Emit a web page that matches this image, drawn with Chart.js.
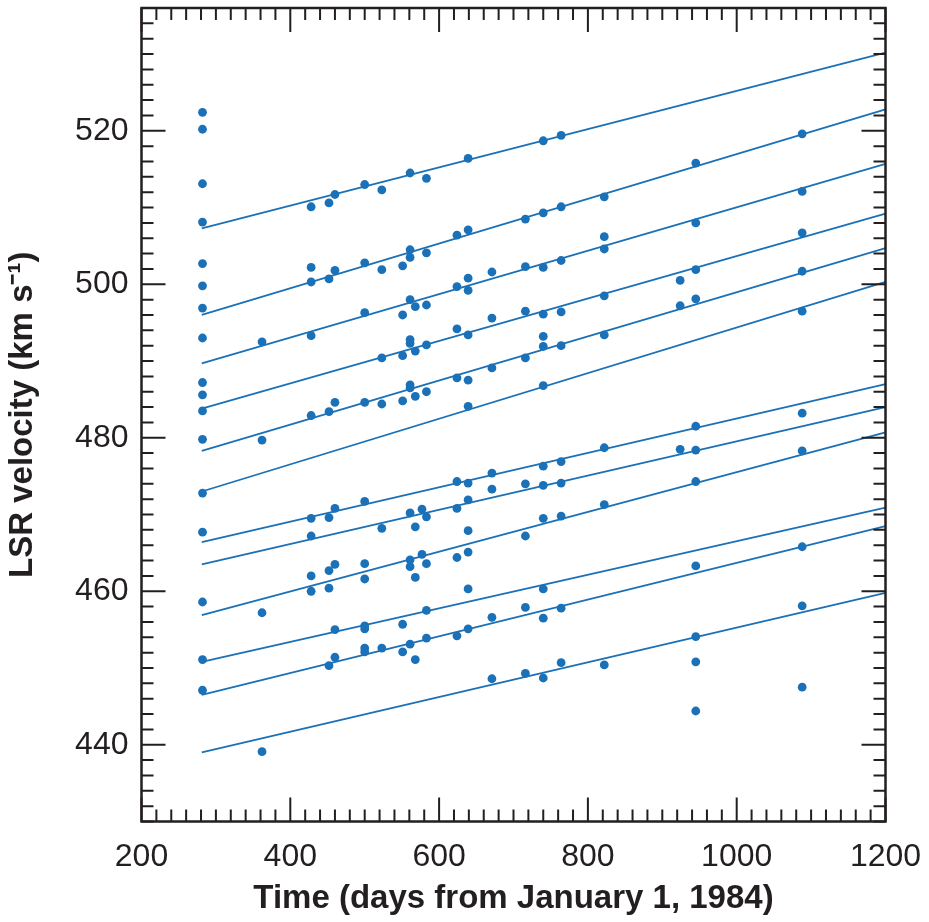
<!DOCTYPE html>
<html><head><meta charset="utf-8">
<script src="https://cdn.jsdelivr.net/npm/chart.js@4/dist/chart.umd.min.js"></script>
<style>html,body{margin:0;padding:0;background:#fff}#wrap{width:929px;height:922px}</style>
</head><body><div id="wrap"><canvas id="c" width="929" height="922"></canvas></div>
<script>
// Observation epochs (days from 1984-01-01) and the LSR velocities measured at each epoch
const obsDays = [282, 362, 428, 452, 460, 500, 523, 551, 561, 568, 577, 583, 624, 639, 671, 716, 740, 764, 822, 924, 945, 1088];
const obsVel = [
  [522.4, 520.2, 513.1, 508.1, 502.7, 499.8, 496.9, 493.0, 487.2, 485.6, 483.5, 479.8, 472.8, 467.7, 458.6, 451.1, 447.1],
  [492.5, 479.7, 457.2, 439.1],
  [510.1, 502.2, 500.3, 493.3, 482.9, 469.5, 467.2, 462.0, 460.0],
  [510.6, 500.7, 483.4, 469.6, 462.7, 460.4, 450.3],
  [511.7, 501.8, 484.6, 470.8, 463.5, 455.0, 451.4],
  [513.0, 502.8, 496.3, 484.6, 471.7, 463.6, 461.6, 455.5, 455.1, 452.6, 452.1],
  [512.3, 501.9, 490.4, 484.4, 468.2, 452.6],
  [502.4, 496.0, 490.7, 484.8, 455.7, 452.1],
  [514.5, 504.5, 503.5, 498.0, 492.8, 492.3, 486.9, 486.5, 470.2, 464.1, 463.2, 453.1],
  [497.1, 491.3, 485.4, 468.4, 461.8, 451.1],
  [470.7, 464.8],
  [513.8, 504.1, 497.3, 492.1, 486.0, 469.7, 463.6, 457.5, 453.9],
  [506.4, 499.7, 494.2, 487.8, 474.3, 470.8, 464.4, 454.2],
  [516.4, 507.1, 500.8, 499.2, 493.4, 487.5, 484.1, 474.1, 471.9, 467.9, 465.1, 460.3, 455.1],
  [501.6, 495.6, 489.1, 475.4, 473.3, 456.6, 448.6],
  [508.5, 502.3, 496.5, 490.4, 474.0, 467.2, 457.9, 449.3],
  [518.7, 509.3, 502.2, 496.1, 493.2, 491.9, 486.8, 476.3, 473.8, 469.5, 460.3, 456.5, 448.7],
  [519.4, 510.1, 503.1, 496.4, 492.0, 476.9, 474.1, 469.8, 457.8, 450.7],
  [511.4, 506.2, 504.6, 498.5, 493.4, 478.7, 471.3, 450.4],
  [500.5, 497.2, 478.5],
  [515.8, 508.0, 501.9, 498.1, 481.5, 478.4, 474.3, 463.3, 454.1, 450.8, 444.4],
  [519.6, 512.1, 506.7, 501.7, 496.5, 483.2, 478.3, 465.8, 458.1, 447.5]
];
// Linear fits (one per velocity feature): start and end values
const fitStartDay = 281;
const fitEndDay = 1200;
const fitStartVel = [507.3, 496.0, 489.7, 483.8, 478.3, 473.0, 466.4, 463.5, 456.9, 450.8, 446.5, 439.0];
const fitEndVel   = [530.2, 522.8, 515.7, 509.2, 504.7, 500.3, 487.0, 484.0, 480.7, 470.9, 468.5, 459.8];
// Axis tick labels
const xTickLabels = [200, 400, 600, 800, 1000, 1200];
const yTickLabels = [440, 460, 480, 500, 520];

const BLUE = '#1b71b7';
const INK = '#231f20';
const FONT = '"Liberation Sans", Arial, Helvetica, sans-serif';

const points = [];
obsDays.forEach((d, i) => obsVel[i].forEach(v => points.push({x: d, y: v})));

const datasets = [{
  type: 'scatter', data: points, pointRadius: 4.4, pointBorderWidth: 0,
  backgroundColor: BLUE, borderColor: BLUE, showLine: false
}];
fitStartVel.forEach((s, i) => datasets.push({
  type: 'scatter', showLine: true, pointRadius: 0, borderWidth: 1.8,
  borderColor: BLUE, backgroundColor: BLUE,
  data: [{x: fitStartDay, y: s}, {x: fitEndDay, y: fitEndVel[i]}]
}));

const frameTicks = {
  id: 'frameTicks',
  afterDatasetsDraw(chart) {
    const {ctx, chartArea: a, scales: {x, y}} = chart;
    ctx.save();
    ctx.strokeStyle = INK;
    ctx.lineWidth = 2;
    ctx.beginPath();
    x.ticks.forEach(t => {
      const px = x.getPixelForValue(t.value);
      const len = xTickLabels.includes(Math.round(t.value)) ? 24 : 12;
      ctx.moveTo(px, a.bottom); ctx.lineTo(px, a.bottom - len);
      ctx.moveTo(px, a.top); ctx.lineTo(px, a.top + len);
    });
    y.ticks.forEach(t => {
      const py = y.getPixelForValue(t.value);
      const len = yTickLabels.includes(Math.round(t.value)) ? 24 : 12;
      ctx.moveTo(a.left, py); ctx.lineTo(a.left + len, py);
      ctx.moveTo(a.right, py); ctx.lineTo(a.right - len, py);
    });
    ctx.stroke();
    ctx.lineWidth = 2.5;
    ctx.strokeRect(a.left, a.top, a.right - a.left, a.bottom - a.top);
    ctx.restore();
  }
};

new Chart(document.getElementById('c'), {
  type: 'scatter',
  data: {datasets},
  options: {
    responsive: false, animation: false, devicePixelRatio: 1, events: [],
    layout: {padding: {top: 8, right: 43.5, left: 0, bottom: 0}},
    plugins: {legend: {display: false}, tooltip: {enabled: false}},
    scales: {
      x: {
        type: 'linear', min: 200, max: 1200,
        grid: {display: false, drawTicks: false}, border: {display: false},
        ticks: {
          stepSize: 20, autoSkip: false, maxRotation: 0, padding: 16,
          color: INK, font: {family: FONT, size: 32},
          callback: v => xTickLabels.includes(Math.round(v)) ? String(Math.round(v)) : ''
        },
        title: {display: true, text: 'Time (days from January 1, 1984)', color: INK,
          font: {family: FONT, size: 33, weight: 'bold'},
          padding: {top: 0, bottom: 3}},
        afterFit: s => { s.height = 100.5; s.paddingLeft = 0; s.paddingRight = 0; }
      },
      y: {
        type: 'linear', min: 430, max: 536,
        grid: {display: false, drawTicks: false}, border: {display: false},
        ticks: {
          stepSize: 2, autoSkip: false, padding: 13,
          color: INK, font: {family: FONT, size: 32},
          callback: v => yTickLabels.includes(Math.round(v)) ? String(Math.round(v)) : ''
        },
        title: {display: true, text: 'LSR velocity (km s\u207B\u00B9)', color: INK,
          font: {family: FONT, size: 33, weight: 'bold'},
          padding: {top: 3, bottom: 0}},
        afterFit: s => { s.width = 141.5; s.paddingTop = 0; s.paddingBottom = 0; }
      }
    }
  },
  plugins: [frameTicks]
});
</script>
</body></html>
